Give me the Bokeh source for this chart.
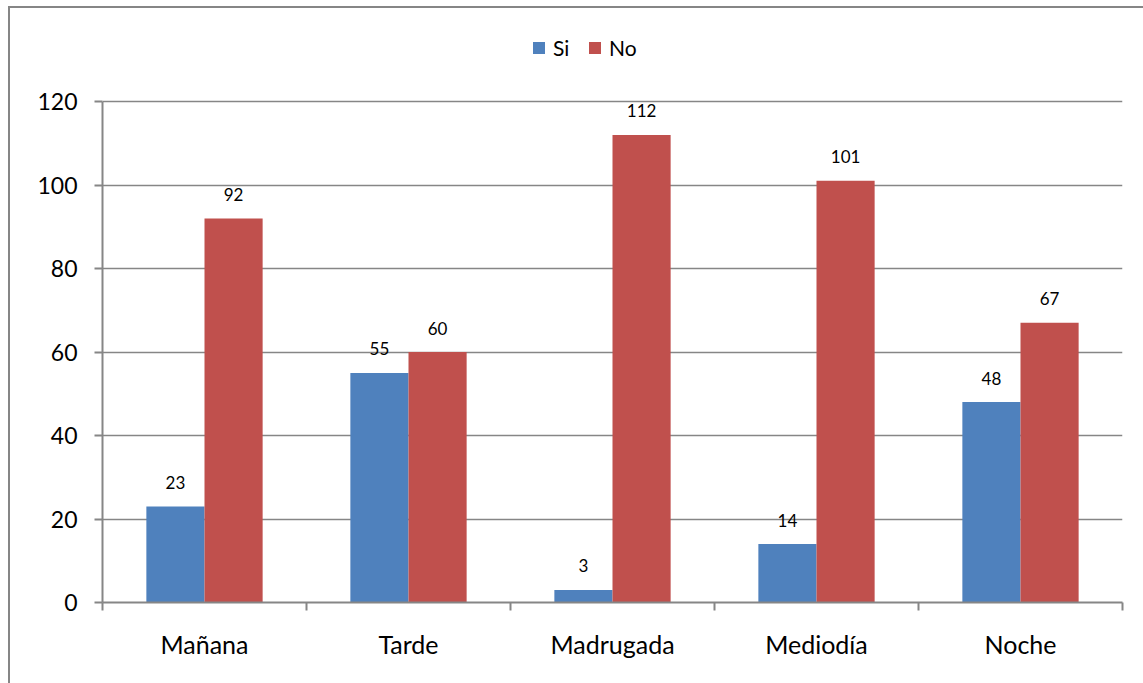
from bokeh.plotting import figure
from bokeh.models import ColumnDataSource, FixedTicker, Range1d, InlineStyleSheet
from bokeh.core.properties import value
from bokeh.embed import file_html
from bokeh.resources import INLINE

# Data
categories = ["Mañana", "Tarde", "Madrugada", "Mediodía", "Noche"]
si_values = [23, 55, 3, 14, 48]
no_values = [92, 60, 112, 101, 67]
y_ticks = [0, 20, 40, 60, 80, 100, 120]

SI_COLOR = "#4F81BD"
NO_COLOR = "#C0504D"
GRAY = "#868686"
FONT = "Lato"

BAR_W = 0.285
centers = [i + 0.5 for i in range(len(categories))]

si_src = ColumnDataSource(dict(
    x=[c - BAR_W / 2 for c in centers],
    top=si_values,
    label=[str(v) for v in si_values],
))
no_src = ColumnDataSource(dict(
    x=[c + BAR_W / 2 for c in centers],
    top=no_values,
    label=[str(v) for v in no_values],
))

# The frame runs up to the chart border so the legend can sit above the
# 120 gridline; the value axis itself is bounded to 0..120.
Y_MAX = 120
FRAME_TOP, AXIS_TOP, AXIS_BOTTOM = 7, 101, 602
y_end = Y_MAX + (AXIS_TOP - FRAME_TOP) * Y_MAX / (AXIS_BOTTOM - AXIS_TOP)

p = figure(
    width=1143, height=683,
    x_range=Range1d(0, len(categories)),
    y_range=Range1d(0, y_end),
    output_backend="svg", toolbar_location=None,
    min_border_left=102, min_border_right=21,
    min_border_top=FRAME_TOP, min_border_bottom=683 - AXIS_BOTTOM,
)
p.outline_line_color = None
p.background_fill_color = "white"
p.border_fill_color = "white"

p.vbar(x="x", top="top", width=BAR_W, source=si_src, fill_color=SI_COLOR,
       line_color=None, legend_label="Si")
p.vbar(x="x", top="top", width=BAR_W, source=no_src, fill_color=NO_COLOR,
       line_color=None, legend_label="No")

for src in (si_src, no_src):
    p.text(x="x", y="top", text="label", source=src, y_offset=-24,
           text_align="center", text_baseline="alphabetic",
           text_font=value(FONT), text_font_size="17px", text_color="black")

# Y axis
p.yaxis.ticker = FixedTicker(ticks=y_ticks)
p.yaxis.bounds = (0, Y_MAX)
p.yaxis.axis_line_color = GRAY
p.yaxis.axis_line_width = 2
p.yaxis.major_tick_line_color = GRAY
p.yaxis.major_tick_line_width = 2
p.yaxis.major_tick_out = 8
p.yaxis.major_tick_in = 0
p.yaxis.minor_tick_line_color = None
p.yaxis.major_label_text_font = FONT
p.yaxis.major_label_text_font_size = "23px"
p.yaxis.major_label_text_color = "black"
p.yaxis.major_label_standoff = 17

# X axis: category names at centres, ticks at category boundaries
p.xaxis.ticker = FixedTicker(ticks=centers,
                             minor_ticks=list(range(len(categories) + 1)))
p.xaxis.major_label_overrides = {c: name for c, name in zip(centers, categories)}
p.xaxis.axis_line_color = GRAY
p.xaxis.axis_line_width = 2
p.xaxis.major_tick_line_color = None
p.xaxis.major_tick_out = 0
p.xaxis.major_tick_in = 0
p.xaxis.minor_tick_line_color = GRAY
p.xaxis.minor_tick_line_width = 2
p.xaxis.minor_tick_out = 8
p.xaxis.minor_tick_in = 0
p.xaxis.major_label_text_font = FONT
p.xaxis.major_label_text_font_size = "25px"
p.xaxis.major_label_text_color = "black"
p.xaxis.major_label_standoff = 18

p.xgrid.grid_line_color = None
p.ygrid.ticker = FixedTicker(ticks=y_ticks)
p.ygrid.grid_line_color = GRAY
p.ygrid.grid_line_width = 1.5

# Legend (location = bottom-left corner, relative to the frame's bottom-left)
lg = p.legend[0]
lg.location = (429, AXIS_BOTTOM - 60)
lg.orientation = "horizontal"
lg.glyph_width = 15
lg.glyph_height = 15
lg.label_standoff = 7
lg.spacing = 14
lg.padding = 0
lg.margin = 0
lg.border_line_color = None
lg.background_fill_alpha = 0
lg.label_text_font = FONT
lg.label_text_font_size = "21px"
lg.label_text_color = "black"

# Chart-area border (top and left edges)
p.stylesheets = [InlineStyleSheet(css="""
:host::after {
  content: "";
  position: absolute;
  left: 8px; top: 6px; right: 0; bottom: 0;
  border-left: 2px solid #868686;
  border-top: 2px solid #868686;
  pointer-events: none;
}
""")]

open("out.html", "w").write(file_html(p, INLINE))
